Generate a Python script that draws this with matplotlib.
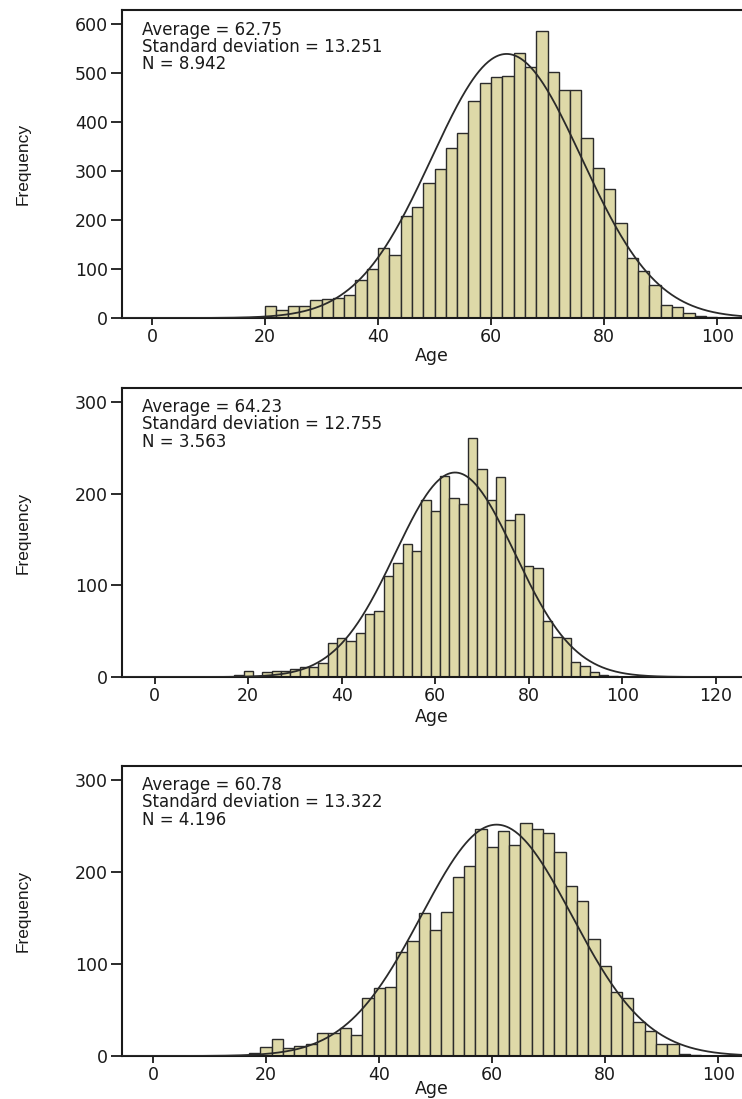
import numpy as np
import matplotlib
matplotlib.use("Agg")
import matplotlib.pyplot as plt

# ---- data: age histograms (bin width 2 years) with summary statistics ----
bin_width = 2

start_1 = 20
counts_1 = [25, 16, 25, 25, 37, 39, 40, 46, 78, 99,
            142, 129, 208, 227, 276, 303, 346, 378, 443, 479,
            491, 494, 541, 512, 586, 501, 464, 464, 367, 306,
            264, 194, 122, 95, 68, 27, 22, 10, 5, 2]
mean_1, sd_1, n_1 = 62.75, 13.251, 8942
label_n_1 = "8.942"

start_2 = 17
counts_2 = [2, 6.5, 1, 5.5, 6, 6, 9, 11, 11, 15,
            37.5, 42, 39, 48, 69, 72, 110, 124, 145, 137,
            193, 181, 219, 195, 189, 260, 227, 193, 218, 171,
            178, 121, 118.5, 61, 44, 42.5, 16, 12, 5, 2, 1.5]
mean_2, sd_2, n_2 = 64.23, 12.755, 3563
label_n_2 = "3.563"

start_3 = 17
counts_3 = [3, 10, 18.5, 8.5, 11, 13.5, 24.5, 24.5, 30, 22.5,
            63, 74, 74.5, 112.5, 124.5, 155.5, 136.5, 156, 194.5, 206,
            247, 226.5, 244, 229.5, 253.5, 247, 242.5, 221.5, 184.5, 168.5,
            127.5, 98, 69, 63.5, 37, 27, 12.5, 12.5, 2.5, 1.5]
mean_3, sd_3, n_3 = 60.78, 13.322, 4196
label_n_3 = "4.196"

xticks_1 = [0, 20, 40, 60, 80, 100]
xticks_2 = [0, 20, 40, 60, 80, 100, 120]
xticks_3 = [0, 20, 40, 60, 80, 100]
yticks_1 = [0, 100, 200, 300, 400, 500, 600]
yticks_2 = [0, 100, 200, 300]
yticks_3 = [0, 100, 200, 300]

# ---- styling ----
BAR_FACE = "#DED9A8"
BAR_EDGE = "#2b2b2b"
INK = "#1a1a1a"
TICK_FONT = 12.5
NOTE_FONT = 12

W, H = 742, 1099
fig = plt.figure(figsize=(W / 100, H / 100), dpi=100)
fig.patch.set_facecolor("white")


def px_axes(top, bottom, left=122, right=742):
    return fig.add_axes([left / W, 1 - bottom / H, (right - left) / W, (bottom - top) / H])


panels = [
    dict(rect=(10, 318), start=start_1, counts=counts_1, mean=mean_1, sd=sd_1, n=n_1,
         nlab=label_n_1, xticks=xticks_1, yticks=yticks_1, xlim=(-5.3, 104.4), ylim=(0, 628),
         agepad=1),
    dict(rect=(388, 677), start=start_2, counts=counts_2, mean=mean_2, sd=sd_2, n=n_2,
         nlab=label_n_2, xticks=xticks_2, yticks=yticks_2, xlim=(-7.0, 125.6), ylim=(0, 315),
         agepad=2),
    dict(rect=(766, 1056), start=start_3, counts=counts_3, mean=mean_3, sd=sd_3, n=n_3,
         nlab=label_n_3, xticks=xticks_3, yticks=yticks_3, xlim=(-5.5, 104.2), ylim=(0, 315),
         agepad=-3),
]

for p in panels:
    ax = px_axes(*p["rect"])
    counts = np.asarray(p["counts"], dtype=float)
    lefts = p["start"] + bin_width * np.arange(len(counts))
    ax.bar(lefts, counts, width=bin_width, align="edge", color=BAR_FACE,
           edgecolor=BAR_EDGE, linewidth=1.0, zorder=2)

    # fitted normal curve scaled to counts per bin
    xs = np.linspace(p["xlim"][0], p["xlim"][1], 600)
    ys = p["n"] * bin_width / (p["sd"] * np.sqrt(2 * np.pi)) * np.exp(-0.5 * ((xs - p["mean"]) / p["sd"]) ** 2)
    ax.plot(xs, ys, color="#2a2a2a", linewidth=1.3, zorder=3)

    ax.set_xlim(*p["xlim"])
    ax.set_ylim(*p["ylim"])
    ax.set_xticks(p["xticks"])
    ax.set_yticks(p["yticks"])
    ax.tick_params(axis="y", direction="out", length=8, width=1.3, pad=2,
                   labelsize=TICK_FONT, colors=INK)
    ax.tick_params(axis="x", direction="out", length=5, width=1.3, pad=2,
                   labelsize=TICK_FONT, colors=INK)
    for side in ("left", "top", "bottom"):
        ax.spines[side].set_linewidth(1.5)
        ax.spines[side].set_color(INK)
    ax.spines["right"].set_visible(False)

    ax.set_xlabel("Age", fontsize=TICK_FONT, color=INK, labelpad=p["agepad"])
    ax.set_ylabel("Frequency", fontsize=12.5, color=INK,
                  family=["Liberation Sans", "DejaVu Sans"])
    ax.yaxis.set_label_coords(-0.147, 0.5)

    note = f"Average = {p['mean']:.2f}\nStandard deviation = {p['sd']:.3f}\nN = {p['nlab']}"
    ax.text(0.032, 0.965, note, transform=ax.transAxes, ha="left", va="top",
            fontsize=NOTE_FONT, color=INK, linespacing=0.95)

fig.savefig("out.png", dpi=100, facecolor="white")
